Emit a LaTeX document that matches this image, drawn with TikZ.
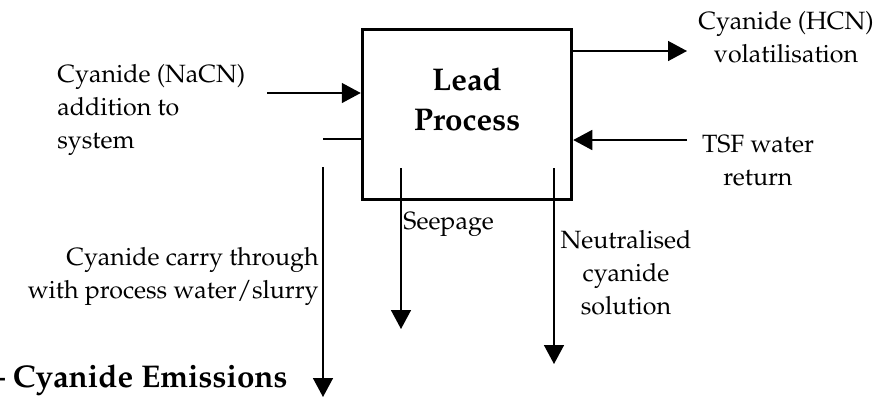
\documentclass[tikz,border=0pt]{standalone}
\usepackage[T1]{fontenc}
\usepackage{mathpazo}
\usetikzlibrary{arrows.meta,positioning}

\tikzset{
  flow/.style={line width=0.75pt,-{Triangle[length=9.5pt,width=10pt]}},
  pipe/.style={line width=0.75pt},
  unit/.style={draw,line width=1.75pt,minimum width=104.5pt,minimum height=85pt,inner sep=0pt},
  txt/.style={inner sep=0pt,font=\fontsize{12.5}{16.5}\selectfont},
  head/.style={inner sep=0pt,align=center,font=\fontsize{15.7}{20}\selectfont\bfseries}
}

\begin{document}
\begin{tikzpicture}[x=0.5pt,y=-0.5pt]
			\useasboundingbox (0,0) rectangle (885,397);
			% the process block
			\node[unit] (lead) at (467,114.5) {};
			\node[head] (leadtxt) at (467,99) {Lead\\Process};
			
			% labels
			\node[txt,align=left,anchor=west] (nacn) at (57,110) {Cyanide (NaCN)\\addition to\\system};
			\node[txt,align=right,anchor=east] (carry) at (319,276) {Cyanide carry through\\with process water/slurry};
			\node[txt,anchor=west] (seep) at (403,224) {Seepage};
			\node[txt,align=center] (neut) at (626,273) {Neutralised\\cyanide\\solution};
			\node[txt,align=center] (hcn) at (786,37) {Cyanide (HCN)\\volatilisation};
			\node[txt,align=center] (tsf) at (758,161) {TSF water\\return};
			\node[head,anchor=east] (title) at (288,380) {-- Cyanide Emissions};
			
			% line ends
			\coordinate (naStart) at (267,93);
			\coordinate (carryTop) at (323,139);
			\coordinate (carryDown) at (323,167);
			\coordinate (carryEnd) at (323,397);
			\coordinate (seepTop) at (401,168);
			\coordinate (seepEnd) at (401,329);
			\coordinate (neutTop) at (554,168);
			\coordinate (neutEnd) at (554,364);
			\coordinate (hcnEnd) at (687,51);
			\coordinate (tsfStart) at (687,140);
			
			% streams in and out
			\draw[flow] (naStart) -- (naStart -| lead.west);
			\draw[pipe] (carryTop) -- (carryTop -| lead.west);
			\draw[flow] (carryDown) -- (carryEnd);
			\draw[flow] (seepTop) -- (seepEnd);
			\draw[flow] (neutTop) -- (neutEnd);
			\draw[flow] (hcnEnd -| lead.east) -- (hcnEnd);
			\draw[flow] (tsfStart) -- (tsfStart -| lead.east);
\end{tikzpicture}
\end{document}
